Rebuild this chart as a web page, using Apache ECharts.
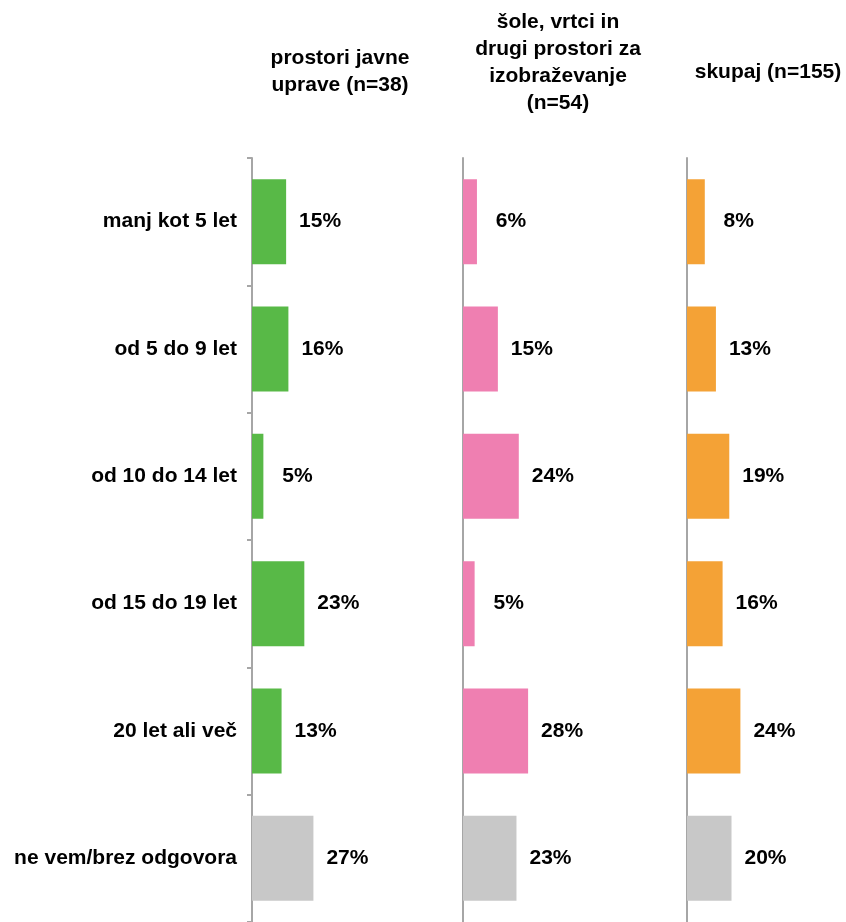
<!DOCTYPE html>
<html>
<head>
<meta charset="utf-8">
<script src="https://cdn.jsdelivr.net/npm/echarts@6/dist/echarts.min.js"></script>
<style>html,body{margin:0;padding:0;background:#fff}#c{width:846px;height:922px}</style>
</head>
<body>
<div id="c"></div>
<script>
const categories = ['manj kot 5 let', 'od 5 do 9 let', 'od 10 do 14 let', 'od 15 do 19 let', '20 let ali več', 'ne vem/brez odgovora'];
const panelTitles = ['prostori javne\nuprave (n=38)', 'šole, vrtci in\ndrugi prostori za\nizobraževanje\n(n=54)', 'skupaj (n=155)'];
const javnaUprava = [15, 16, 5, 23, 13, 27];
const izobrazevanje = [6, 15, 24, 5, 28, 23];
const skupaj = [8, 13, 19, 16, 24, 20];
const panelColors = ['#58B947', '#EF7FB1', '#F4A236'];
const otherColor = '#C8C8C8';

const FONT = 'Liberation Sans, Arial, sans-serif';
const FS = 21;
const AXMAX = 40;
const panels = [
  {left: 252, width: 91, data: javnaUprava, titleX: 340, titleTop: 45},
  {left: 463, width: 93, data: izobrazevanje, titleX: 558, titleTop: 9},
  {left: 687, width: 89, data: skupaj, titleX: 768, titleTop: 59}
];

const grid = [], xAxis = [], yAxis = [], series = [], title = [];
panels.forEach((p, i) => {
  grid.push({left: p.left, top: 158, width: p.width, height: 768, containLabel: false});
  xAxis.push({type: 'value', gridIndex: i, min: 0, max: AXMAX, show: false});
  yAxis.push({
    type: 'category', gridIndex: i, data: categories, inverse: true,
    axisLine: {show: true, lineStyle: {color: '#a6a6a6', width: 2}},
    axisTick: {show: i === 0, length: 5, lineStyle: {color: '#a6a6a6', width: 2}},
    axisLabel: {show: i === 0, margin: 15, color: '#000', fontFamily: FONT, fontWeight: 'bold', fontSize: FS},
    splitLine: {show: false}
  });
  series.push({
    type: 'bar', xAxisIndex: i, yAxisIndex: i, barWidth: 85,
    data: p.data.map((v, j) => ({value: v, itemStyle: {color: j === categories.length - 1 ? otherColor : panelColors[i]}})),
    label: {show: true, position: 'right', distance: 34, align: 'center', formatter: '{c}%',
      color: '#000', fontFamily: FONT, fontWeight: 'bold', fontSize: FS},
    animation: false
  });
  title.push({
    text: panelTitles[i], left: p.titleX, top: p.titleTop, textAlign: 'center', padding: 0,
    textStyle: {color: '#000', fontFamily: FONT, fontWeight: 'bold', fontSize: FS, lineHeight: 27}
  });
});

const chart = echarts.init(document.getElementById('c'), null, {renderer: 'canvas'});
chart.setOption({animation: false, backgroundColor: '#fff', title, grid, xAxis, yAxis, series});
</script>
</body>
</html>
